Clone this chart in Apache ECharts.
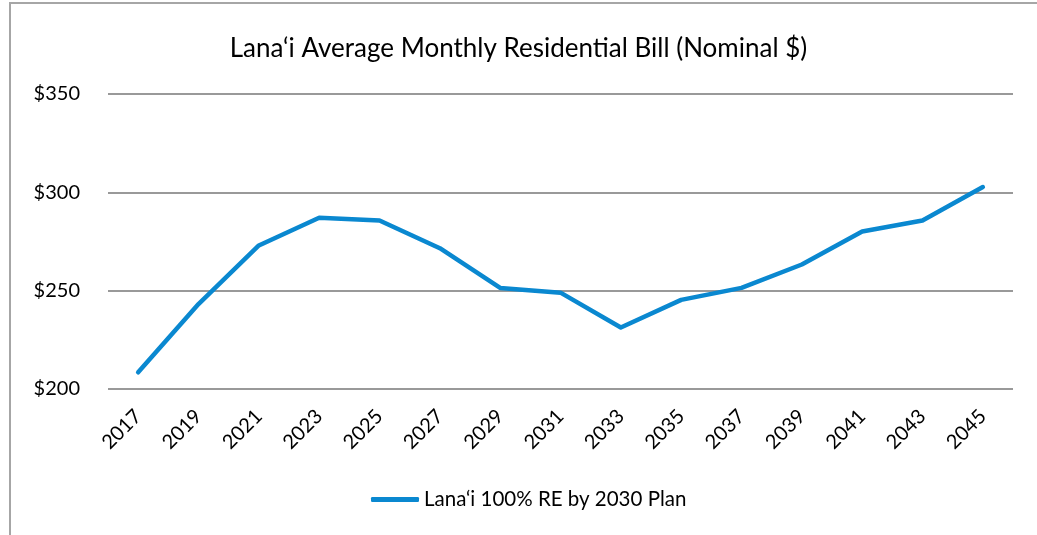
<!DOCTYPE html>
<html>
<head>
<meta charset="utf-8">
<script src="https://cdn.jsdelivr.net/npm/echarts@6/dist/echarts.min.js"></script>
<style>
html,body{margin:0;padding:0;background:#fff;}
#chart{width:1037px;height:535px;}
</style>
</head>
<body>
<div id="chart"></div>
<script>
const titleText = 'Lana\u2018i Average Monthly Residential Bill (Nominal $)';
const seriesName = 'Lana\u2018i 100% RE by 2030 Plan';
const years = ['2017','2019','2021','2023','2025','2027','2029','2031','2033','2035','2037','2039','2041','2043','2045'];
const bills = [208.5, 243.2, 273.0, 287.1, 285.7, 271.6, 251.4, 249.0, 231.3, 245.3, 251.4, 263.3, 280.1, 285.7, 302.7];
const yTicks = [200, 250, 300, 350];

const FONT = 'Lato, "Open Sans", sans-serif';
const chart = echarts.init(document.getElementById('chart'));
chart.setOption({
  animation: false,
  backgroundColor: '#fff',
  graphic: [{
    type: 'rect', shape: {x: 10, y: 3, width: 1100, height: 600},
    style: {fill: 'none', stroke: '#a6a6a6', lineWidth: 2}, silent: true, z: -1
  }],
  title: {
    text: titleText, left: 'center', top: 31,
    textStyle: {fontFamily: FONT, fontSize: 26, fontWeight: 'normal', color: '#000'}
  },
  legend: {
    data: [seriesName], left: 366, top: 484,
    itemWidth: 48, itemHeight: 5, icon: 'roundRect',
    textStyle: {fontFamily: FONT, fontSize: 20.5, color: '#000'}
  },
  grid: {left: 108, right: 24, top: 94, bottom: 146},
  xAxis: {
    type: 'category', data: years, boundaryGap: true,
    axisLine: {show: false}, axisTick: {show: false},
    axisLabel: {rotate: 45, margin: 24, fontFamily: FONT, fontSize: 20, color: '#000'}
  },
  yAxis: {
    type: 'value', min: yTicks[0], max: yTicks[yTicks.length-1], interval: 50,
    axisLine: {show: false}, axisTick: {show: false},
    splitLine: {lineStyle: {color: '#999', width: 2}},
    axisLabel: {margin: 28, fontFamily: FONT, fontSize: 20, color: '#000', formatter: v => '$' + v}
  },
  series: [{
    name: seriesName, type: 'line', data: bills, symbol: 'none',
    lineStyle: {color: '#0a88d0', width: 4.5, cap: 'round', join: 'round'},
    itemStyle: {color: '#0a88d0'}
  }]
});
</script>
</body>
</html>
